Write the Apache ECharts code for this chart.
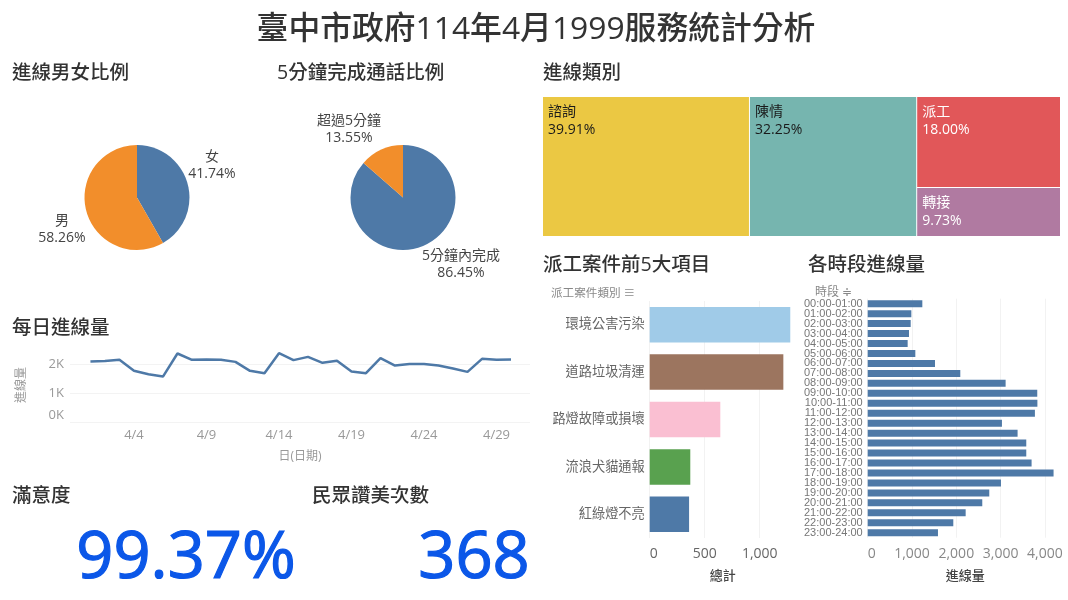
<!DOCTYPE html>
<html><head><meta charset="utf-8">
<style>html,body{margin:0;padding:0;background:#fff}#c{width:1068px;height:600px}</style>
<script src="https://cdn.jsdelivr.net/npm/echarts@6/dist/echarts.min.js"></script>
</head><body><div id="c"></div>
<script>
const genderNames = ['女', '男'];
const genderValues = [41.74, 58.26];
const durationNames = ['5分鐘內完成', '超過5分鐘'];
const durationValues = [86.45, 13.55];
const typeNames = ['諮詢', '陳情', '派工', '轉接'];
const typeValues = [39.91, 32.25, 18.00, 9.73];
const days = [1,2,3,4,5,6,7,8,9,10,11,12,13,14,15,16,17,18,19,20,21,22,23,24,25,26,27,28,29,30];
const dailyCalls = [2092,2110,2150,1770,1653,1572,2370,2150,2160,2150,2080,1770,1690,2380,2140,2254,2046,2115,1745,1690,2208,1954,2010,2010,1954,1850,1734,2185,2150,2160];
const dayTicks = [4,9,14,19,24,29];
const caseNames = ['環境公害污染', '道路垃圾清運', '路燈故障或損壞', '流浪犬貓通報', '紅綠燈不亮'];
const caseValues = [1278,1215,642,369,358];
const hourNames = ['00:00-01:00','01:00-02:00','02:00-03:00','03:00-04:00','04:00-05:00','05:00-06:00','06:00-07:00','07:00-08:00','08:00-09:00','09:00-10:00','10:00-11:00','11:00-12:00','12:00-13:00','13:00-14:00','14:00-15:00','15:00-16:00','16:00-17:00','17:00-18:00','18:00-19:00','19:00-20:00','20:00-21:00','21:00-22:00','22:00-23:00','23:00-24:00'];
const hourValues = [1233,985,970,932,902,1075,1519,2090,3113,3827,3830,3774,3030,3383,3579,3579,3699,4195,3008,2744,2586,2211,1932,1586];
const satisfaction = '99.37%';
const praiseCount = '368';

const FF = '"Open Sans","Noto Sans CJK TC",sans-serif';
const BLUE = '#4E79A7', ORANGE = '#F28E2B';
const caseColors = ['#A0CBE8', '#9C755F', '#FABFD2', '#59A14F', '#4E79A7'];
const typeColors = ['#EBC843', '#76B5AF', '#E15759', '#B07AA1'];
const typeLabelColors = ['#1a1a1a', '#1a1a1a', '#ffffff', '#ffffff'];

const secTitle = (text, left, top) => ({text, left, top, padding:0, textStyle:{fontFamily:FF, fontSize:19.5, fontWeight:500, color:'#333'}});
const pieLabelPos = {'女':[212,166], '男':[62,230], '5分鐘內完成':[461,265], '超過5分鐘':[349,130]};
const pie = (names, values, cx) => ({
  type:'pie', center:[cx,197.5], radius:[0,52.5], startAngle:90, clockwise:true, avoidLabelOverlap:false,
  silent:true, animation:false,
  data:names.map((n,i)=>({name:n, value:values[i], itemStyle:{color:i===0?BLUE:ORANGE}})),
  label:{show:true, position:'outside', formatter:p=>p.name+'\n'+p.value.toFixed(2)+'%', fontFamily:FF, fontSize:14, lineHeight:17, color:'#444', align:'center'},
  labelLine:{show:false},
  labelLayout:p=>{const q=pieLabelPos[names[p.dataIndex]];return {x:q[0],y:q[1],align:'center',verticalAlign:'middle'};}
});

const option = {
  animation:false,
  backgroundColor:'#fff',
  title:[
    {text:'臺中市政府114年4月1999服務統計分析', left:531, top:9, textAlign:'center', textStyle:{fontFamily:FF, fontSize:31.8, fontWeight:500, color:'#333'}},
    secTitle('進線男女比例',12,64), secTitle('5分鐘完成通話比例',277,64), secTitle('進線類別',543,64),
    secTitle('每日進線量',12,319), secTitle('派工案件前5大項目',543,256), secTitle('各時段進線量',808,256),
    secTitle('滿意度',12,487), secTitle('民眾讚美次數',312,487)
  ],
  grid:[
    {left:70, top:348, width:460, height:74},
    {left:649.7, top:301, width:146.3, height:237},
    {left:867.7, top:298.7, width:195.3, height:239}
  ],
  xAxis:[
    {gridIndex:0, type:'value', min:-0.41, max:31.31, name:'日(日期)', nameLocation:'middle', nameGap:29,
     nameTextStyle:{fontFamily:FF, fontSize:12, color:'#999'},
     axisLine:{show:false}, axisTick:{show:false}, splitLine:{show:false},
     axisLabel:{customValues:dayTicks, formatter:v=>'4/'+v, fontFamily:FF, fontSize:13, color:'#999', margin:7}},
    {gridIndex:1, type:'value', min:0, max:1330, interval:500, name:'總計', nameLocation:'middle', nameGap:32,
     nameTextStyle:{fontFamily:FF, fontSize:13, fontWeight:500, color:'#444'},
     axisLine:{show:false}, axisTick:{show:false},
     splitLine:{show:true, showMaxLine:false, lineStyle:{color:'#f2f2f2'}},
     axisLabel:{showMaxLabel:false, alignMinLabel:'left', fontFamily:FF, fontSize:14, color:'#666', margin:9}},
    {gridIndex:2, type:'value', min:0, max:4408, interval:1000, name:'進線量', nameLocation:'middle', nameGap:32,
     nameTextStyle:{fontFamily:FF, fontSize:13, fontWeight:500, color:'#444'},
     axisLine:{show:false}, axisTick:{show:false},
     splitLine:{show:true, showMaxLine:false, lineStyle:{color:'#f2f2f2'}},
     axisLabel:{showMaxLabel:false, alignMinLabel:'left', fontFamily:FF, fontSize:14, color:'#888', margin:9}}
  ],
  yAxis:[
    {gridIndex:0, type:'value', min:0, max:2560, interval:1000, name:'進線量', nameLocation:'middle', nameRotate:90, nameGap:42,
     nameTextStyle:{fontFamily:FF, fontSize:12, color:'#999'},
     axisLine:{show:false}, axisTick:{show:false},
     splitLine:{show:true, showMaxLine:false, lineStyle:{color:'#f3f3f3'}},
     axisLabel:{showMaxLabel:false, verticalAlignMinLabel:'bottom', formatter:v=>(v/1000)+'K', fontFamily:FF, fontSize:13, color:'#999', margin:6}},
    {gridIndex:1, type:'category', inverse:true, data:caseNames,
     axisLine:{show:false}, axisTick:{show:false}, splitLine:{show:false},
     axisLabel:{fontFamily:FF, fontSize:13.2, color:'#666', margin:5}},
    {gridIndex:2, type:'category', inverse:true, data:hourNames,
     axisLine:{show:false}, axisTick:{show:false}, splitLine:{show:false},
     axisLabel:{interval:0, fontFamily:'"Liberation Sans",sans-serif', fontSize:11, color:'#777', margin:5}}
  ],
  series:[
    pie(genderNames, genderValues, 137),
    pie(durationNames, durationValues, 403),
    {type:'treemap', left:543, top:97, width:517, height:139, roam:false, nodeClick:false, silent:true,
     breadcrumb:{show:false},
     itemStyle:{borderWidth:0, gapWidth:1},
     label:{show:true, position:'insideTopLeft', formatter:p=>p.name+'\n'+p.value.toFixed(2)+'%', fontFamily:FF, fontSize:14, lineHeight:18, padding:[6,5]},
     upperLabel:{show:false},
     data:typeNames.map((n,i)=>({name:n, value:typeValues[i], itemStyle:{color:typeColors[i]}, label:{color:typeLabelColors[i]}}))},
    {type:'line', xAxisIndex:0, yAxisIndex:0, data:days.map((d,i)=>[d,dailyCalls[i]]), showSymbol:false, symbol:'none',
     lineStyle:{color:BLUE, width:2.5}, silent:true},
    {type:'bar', xAxisIndex:1, yAxisIndex:1, barWidth:35.5, silent:true,
     data:caseValues.map((v,i)=>({value:v, itemStyle:{color:caseColors[i]}}))},
    {type:'bar', xAxisIndex:2, yAxisIndex:2, barWidth:7, silent:true, itemStyle:{color:BLUE}, data:hourValues}
  ],
  graphic:[
    {type:'text', left:551, top:288, style:{text:'派工案件類別 ≡', fontFamily:FF, fontSize:11.6, fill:'#888'}},
    {type:'text', left:815, top:287, style:{text:'時段 ≑', fontFamily:FF, fontSize:12, fill:'#888'}},
    {type:'text', x:186, y:559, style:{text:satisfaction, align:'center', verticalAlign:'middle', fontFamily:FF, fontSize:65, fill:'#0B57E8', stroke:'#0B57E8', lineWidth:1.2}},
    {type:'text', x:474, y:559, style:{text:praiseCount, align:'center', verticalAlign:'middle', fontFamily:FF, fontSize:65, fill:'#0B57E8', stroke:'#0B57E8', lineWidth:1.2}}
  ]
};
echarts.init(document.getElementById('c'), null, {renderer:'canvas'}).setOption(option);
</script></body></html>
